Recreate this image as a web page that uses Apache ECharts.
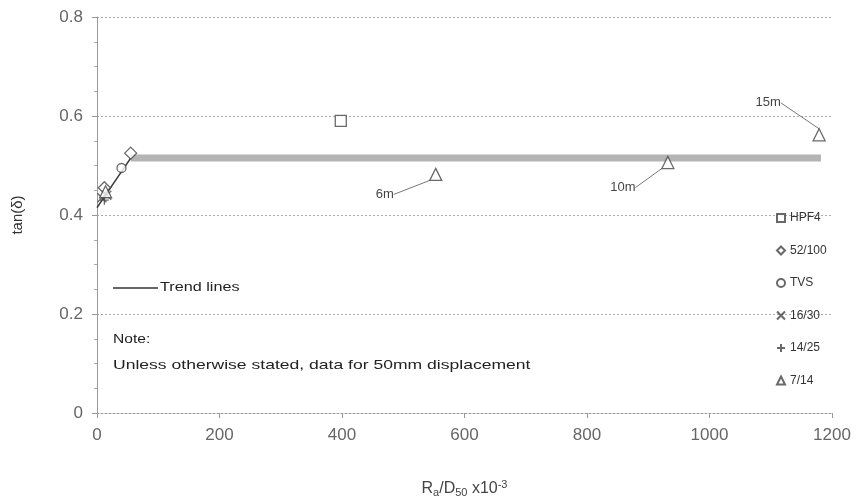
<!DOCTYPE html>
<html><head><meta charset="utf-8">
<script src="https://cdn.jsdelivr.net/npm/echarts@6/dist/echarts.min.js"></script>
<style>html,body{margin:0;padding:0;background:#fff}#c{width:860px;height:503px}</style>
</head><body><div id="c"></div>
<script>
// ---- data ----
const xTicks = [0, 200, 400, 600, 800, 1000, 1200];
const yTicks = [0, 0.2, 0.4, 0.6, 0.8];
const hpf4 = [[398, 0.59]];
const s52_100 = [[55, 0.525], [12, 0.455]];
const tvs = [[40, 0.495]];
const s16_30 = [[8, 0.435], [16, 0.44]];
const s14_25 = [[12, 0.43]];
const s7_14 = [[553, 0.482], [932, 0.506], [1179, 0.562], [14, 0.447]];
const s7_14Labels = ['6m', '10m', '15m', ''];
const trendFlat = [[55, 0.515], [1182, 0.515]];
const trendSlope = [[0, 0.415], [55, 0.515]];

const markerStyle = {color: '#fff', borderColor: '#444', borderWidth: 1.3};
const crossPath = 'path://M0,0L10,10M10,0L0,10';
const plusPath = 'path://M5,0L5,10M0,5L10,5';
const FONT = 'Liberation Sans';

const labelOffsets = [[-51, 20], [-45, 25], [-51, -32], [0, 0]];
const triData = s7_14.map((p, i) => ({
  value: p,
  label: {show: s7_14Labels[i] !== '', formatter: s7_14Labels[i]}
}));

const chart = echarts.init(document.getElementById('c'));
chart.setOption({
  animation: false,
  textStyle: {fontFamily: FONT},
  grid: {left: 97, right: 28, top: 17, bottom: 89},
  xAxis: {
    type: 'value', min: 0, max: 1200, interval: 200,
    name: 'R{sub|a}/D{sub|50} x10{sup|-3}', nameLocation: 'middle', nameGap: 66,
    nameTextStyle: {fontSize: 16, color: '#444', rich: {sub: {fontSize: 11, color: '#444', verticalAlign: 'bottom', padding: [6, 0, 0, 0]}, sup: {fontSize: 11, color: '#444', padding: [0, 0, 8, 0]}}},
    axisLine: {lineStyle: {color: '#999', type: [2, 2]}},
    axisTick: {show: true, length: 5, lineStyle: {color: '#999'}},
    axisLabel: {fontSize: 17, color: '#666', margin: 14, formatter: v => String(v)},
    splitLine: {show: false}
  },
  yAxis: {
    type: 'value', min: 0, max: 0.8, interval: 0.2,
    name: 'tan(δ)', nameLocation: 'middle', nameGap: 72,
    nameTextStyle: {fontSize: 15, color: '#333'},
    axisLine: {show: true, lineStyle: {color: '#999'}},
    axisTick: {show: true, length: 5, lineStyle: {color: '#999'}},
    minorTick: {show: true, splitNumber: 4, length: 3, lineStyle: {color: '#aaa'}},
    axisLabel: {fontSize: 17, color: '#666', margin: 14, formatter: v => String(+v.toFixed(1))},
    splitLine: {show: true, lineStyle: {color: '#aaa', type: [2, 2]}}
  },
  legend: {
    orient: 'vertical', left: 771, top: 206, itemGap: 18.5, itemWidth: 8, itemHeight: 8,
    textStyle: {fontSize: 12, color: '#333', lineHeight: 14},
    data: ['HPF4', '52/100', 'TVS', '16/30', '14/25', '7/14']
  },
  series: [
    {name: 'trend', type: 'line', data: trendFlat, symbol: 'none', lineStyle: {color: '#b4b4b4', width: 7}, z: 1},
    {name: 'trend2', type: 'line', data: trendSlope, symbol: 'none', lineStyle: {color: '#333', width: 1.5}, z: 2},
    {name: 'HPF4', type: 'scatter', data: hpf4, symbol: 'rect', symbolSize: 11, itemStyle: markerStyle, z: 3},
    {name: '52/100', type: 'scatter', data: s52_100, symbol: 'diamond', symbolSize: 12, itemStyle: markerStyle, z: 3},
    {name: 'TVS', type: 'scatter', data: tvs, symbol: 'circle', symbolSize: 9, itemStyle: markerStyle, z: 3},
    {name: '16/30', type: 'scatter', data: s16_30, symbol: crossPath, symbolSize: 9, itemStyle: markerStyle, z: 3},
    {name: '14/25', type: 'scatter', data: s14_25, symbol: plusPath, symbolSize: 9, itemStyle: markerStyle, z: 3},
    {name: '7/14', type: 'scatter', data: triData, symbol: 'triangle', symbolSize: 12, itemStyle: markerStyle, z: 3,
     label: {position: 'inside', fontSize: 13, color: '#111', fontFamily: FONT},
     labelLayout: p => ({dx: labelOffsets[p.dataIndex][0], dy: labelOffsets[p.dataIndex][1]}),
     labelLine: {show: true, lineStyle: {color: '#777', width: 1}}}
  ],
  graphic: [
    {type: 'line', shape: {x1: 113, y1: 288, x2: 158, y2: 288}, style: {stroke: '#333', lineWidth: 1.5}},
    {type: 'text', x: 160, y: 282, scaleX: 1.35, style: {text: 'Trend lines', fontSize: 12, fill: '#222', fontFamily: FONT}},
    {type: 'text', x: 113, y: 333, scaleX: 1.2, style: {text: 'Note:', fontSize: 13, fill: '#222', fontFamily: FONT}},
    {type: 'text', x: 113, y: 359, scaleX: 1.35, style: {text: 'Unless otherwise stated, data for 50mm displacement', fontSize: 13, fill: '#222', fontFamily: FONT}}
  ]
});
</script></body></html>
